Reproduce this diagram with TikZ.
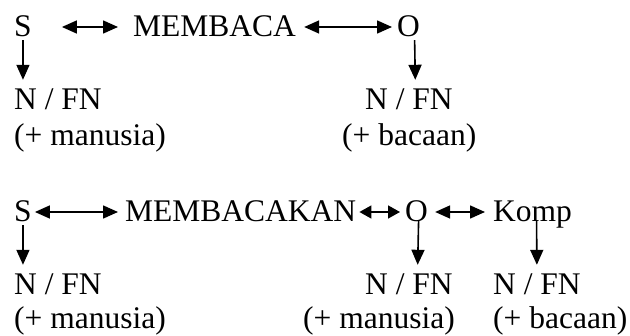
\documentclass[tikz,border=0pt]{standalone}
\usepackage{fontspec}
\setmainfont{Liberation Serif}
\usetikzlibrary{arrows.meta}
\begin{document}
\begin{tikzpicture}[x=1pt,y=-1pt,
  lbl/.style={inner sep=0pt,anchor=base west,text height=20pt,text depth=0pt,
    font=\fontsize{31.5}{38}\selectfont},
  arr/.style={line width=1.6pt,-{Triangle[length=15pt,width=13pt]}},
  dbl/.style={line width=1.6pt,{Triangle[length=15pt,width=13pt]}-{Triangle[length=15pt,width=13pt]}},
  sdbl/.style={line width=1.6pt,{Triangle[length=12pt,width=13pt]}-{Triangle[length=12pt,width=13pt]}}]
\fill[white] (0,0) rectangle (630,336);
\useasboundingbox (0,0) rectangle (630,336);
% row 1
\node[lbl] (S1) at (14,37) {S};
\node[lbl] (V1) at (133,37) {MEMBACA};
\node[lbl] (O1) at (397,37) {O};
\node[lbl] (N1a) at (14,110) {N / FN};
\node[lbl] (M1a) at (14,146) {(+ manusia)};
\node[lbl] (N1b) at (365,110) {N / FN};
\node[lbl] (M1b) at (342,146) {(+ bacaan)};
\draw[dbl,shorten <=30pt,shorten >=15pt] (S1.east) -- (V1.west);
\draw[dbl,shorten <=8pt,shorten >=5pt] (V1.east) -- (O1.west);
\draw[arr,shorten <=3pt,shorten >=10pt] (S1.south) -- (N1a.north -| S1.south);
\draw[arr,shorten <=3pt,shorten >=10pt] ([xshift=6pt]O1.south) -- ([xshift=6.5pt]N1b.north);
% row 2
\node[lbl] (S2) at (14,222) {S};
\node[lbl] (V2) at (125,222) {MEMBACAKAN};
\node[lbl] (O2) at (405,222) {O};
\node[lbl] (K2) at (493,222) {Komp};
\node[lbl] (N2a) at (14,295) {N / FN};
\node[lbl] (M2a) at (14,329) {(+ manusia)};
\node[lbl] (N2b) at (365,295) {N / FN};
\node[lbl] (M2b) at (303,329) {(+ manusia)};
\node[lbl] (N2c) at (493,295) {N / FN};
\node[lbl] (M2c) at (493,329) {(+ bacaan)};
\draw[dbl,shorten <=3pt,shorten >=7pt] (S2.east) -- (V2.west);
\draw[sdbl,shorten <=3pt,shorten >=5pt] (V2.east) -- (O2.west);
\draw[dbl,shorten <=7pt,shorten >=8pt] (O2.east) -- (K2.west);
\draw[arr,shorten <=3pt,shorten >=10pt] (S2.south) -- (N2a.north -| S2.south);
\draw[arr,shorten <=-2pt,shorten >=10pt] ([xshift=2pt]O2.south) -- ([xshift=8.5pt]N2b.north);
\draw[arr,shorten <=-2pt,shorten >=10pt] ([xshift=4pt]K2.south) -- (N2c.north);
\end{tikzpicture}
\end{document}
